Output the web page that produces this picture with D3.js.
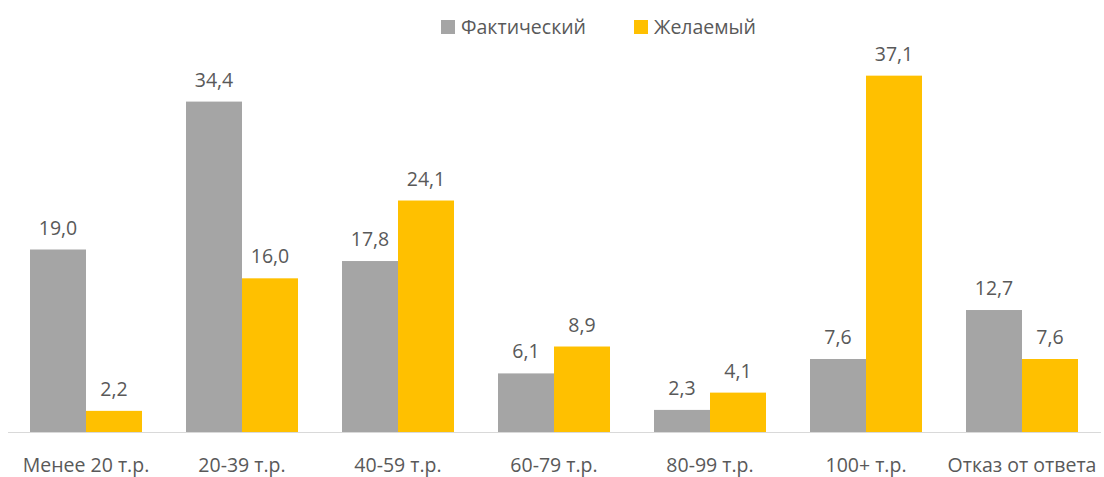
<!DOCTYPE html>
<html><head><meta charset="utf-8">
<script src="https://cdn.jsdelivr.net/npm/d3@7"></script>
<style>body{margin:0;background:#fff}svg{display:block}</style>
</head><body>
<svg id="c" width="1104" height="477"></svg>
<script>
const categories = ["Менее 20 т.р.","20-39 т.р.","40-59 т.р.","60-79 т.р.","80-99 т.р.","100+ т.р.","Отказ от ответа"];
const seriesNames = ["Фактический","Желаемый"];
const actual = [19.0,34.4,17.8,6.1,2.3,7.6,12.7];
const desired = [2.2,16.0,24.1,8.9,4.1,37.1,7.6];
const colors = ["#A5A5A5","#FFC000"];
const series = [actual, desired];

const svg = d3.select("#c");
const font = "'Open Sans', sans-serif";
const fs = 19.5;
const textColor = "#595959";
const x = d3.scaleBand().domain(categories).range([8,1100]).paddingInner(0.282).paddingOuter(0.141);
const xs = d3.scaleBand().domain(seriesNames).range([0,x.bandwidth()]);
const y = d3.scaleLinear().domain([0,40]).range([432,47.8]);

categories.forEach((c,i)=>{
  series.forEach((s,j)=>{
    const v = s[i];
    svg.append("rect").attr("x",x(c)+xs(seriesNames[j])).attr("y",y(v))
      .attr("width",xs.bandwidth()).attr("height",y(0)-y(v)).attr("fill",colors[j]);
    svg.append("text").attr("x",x(c)+xs(seriesNames[j])+xs.bandwidth()/2).attr("y",y(v)-15)
      .attr("text-anchor","middle").attr("font-family",font).attr("font-size",fs).attr("fill",textColor)
      .text(v.toFixed(1).replace(".",","));
  });
});
svg.append("line").attr("x1",8).attr("x2",1101).attr("y1",432.5).attr("y2",432.5).attr("stroke","#D9D9D9").attr("stroke-width",1);
const ax = svg.append("g").attr("transform","translate(0,432)").call(d3.axisBottom(x).tickSize(0).tickPadding(0));
ax.select(".domain").remove();
ax.selectAll("text").attr("y",40).attr("dy",0).attr("font-family",font).attr("font-size",fs).attr("fill",textColor);

const leg = [{n:seriesNames[0],c:colors[0],x:441,tx:461},{n:seriesNames[1],c:colors[1],x:634,tx:654}];
leg.forEach(l=>{
  svg.append("rect").attr("x",l.x).attr("y",20).attr("width",14).attr("height",14).attr("fill",l.c);
  svg.append("text").attr("x",l.tx).attr("y",34).attr("font-family",font).attr("font-size",fs).attr("fill",textColor).text(l.n);
});
</script>
</body></html>
